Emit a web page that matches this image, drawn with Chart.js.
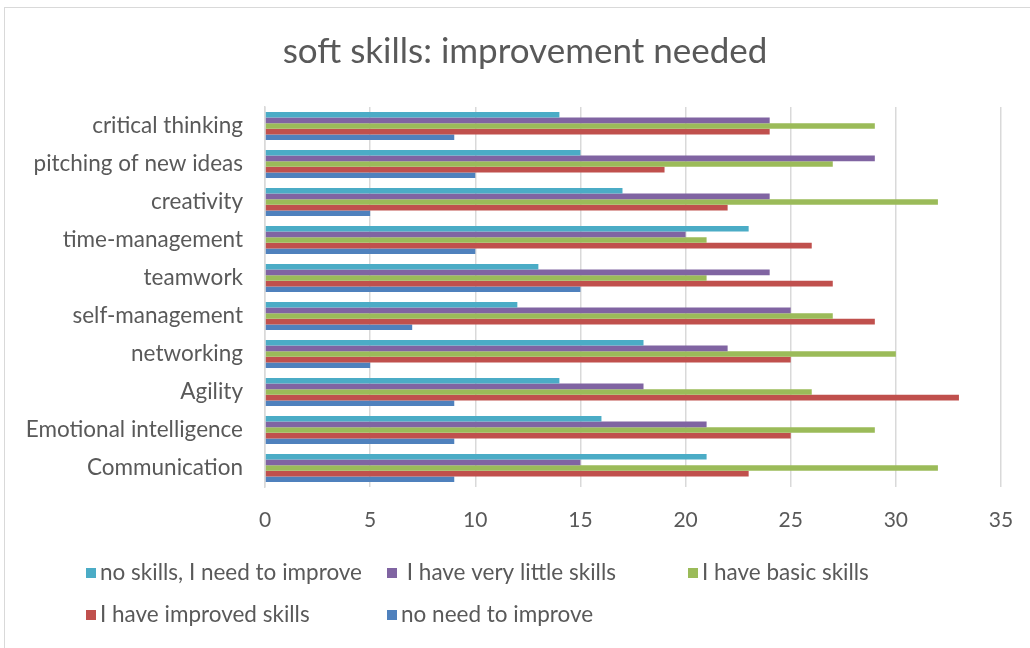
<!DOCTYPE html>
<html>
<head>
<meta charset="utf-8">
<script src="https://cdn.jsdelivr.net/npm/chart.js@4/dist/chart.umd.min.js"></script>
<style>
  html, body { margin: 0; padding: 0; background: #fff; overflow: hidden; }
  #frame { position: absolute; left: 4px; top: 7px; width: 1040px; height: 660px; border: 1px solid #d9d9d9; }
  #wrap { position: absolute; left: 0; top: 0; width: 1030px; height: 648px; }
</style>
</head>
<body>
<div id="frame"></div>
<div id="wrap"><canvas id="chart"></canvas></div>
<script>
// categories top to bottom as shown
const categories = [
    'critical thinking', 'pitching of new ideas', 'creativity', 'time-management',
    'teamwork', 'self-management', 'networking', 'Agility',
    'Emotional intelligence', 'Communication'
];
const noSkills   = [14, 15, 17, 23, 13, 12, 18, 14, 16, 21];
const veryLittle = [24, 29, 24, 20, 24, 25, 22, 18, 21, 15];
const basic      = [29, 27, 32, 21, 21, 27, 30, 26, 29, 32];
const improved   = [24, 19, 22, 26, 27, 29, 25, 33, 25, 23];
const noNeed     = [9, 10, 5, 10, 15, 7, 5, 9, 9, 9];
const xTicks = [0, 5, 10, 15, 20, 25, 30, 35];

const textColor = '#595959';
const fontFamily = 'Lato, "Liberation Sans", sans-serif';

// legend drawn in fixed columns like the office legend
const columnLegend = {
    id: 'columnLegend',
    afterDraw(chart) {
        const ctx = chart.ctx;
        const cols = [86, 387, 688];
        const rows = [573, 615];
        ctx.save();
        ctx.font = '22.5px ' + fontFamily;
        ctx.textBaseline = 'middle';
        chart.data.datasets.forEach((ds, i) => {
            const x = cols[i % 3];
            const y = rows[Math.floor(i / 3)];
            ctx.fillStyle = ds.backgroundColor;
            ctx.fillRect(x, y - 5, 10, 10);
            ctx.fillStyle = textColor;
            ctx.fillText(ds.label, x + 14, y);
        });
        ctx.restore();
    }
};

const ctx = document.getElementById('chart').getContext('2d');
new Chart(ctx, {
    type: 'bar',
    data: {
        labels: categories,
        datasets: [
            { label: 'no skills, I need to improve', data: noSkills, backgroundColor: '#4bacc6' },
            { label: ' I have very little skills', data: veryLittle, backgroundColor: '#8064a2' },
            { label: 'I have basic skills', data: basic, backgroundColor: '#9bbb59' },
            { label: 'I have improved skills', data: improved, backgroundColor: '#c0504d' },
            { label: 'no need to improve', data: noNeed, backgroundColor: '#4f81bd' }
        ]
    },
    options: {
        indexAxis: 'y',
        responsive: true,
        maintainAspectRatio: false,
        animation: false,
        categoryPercentage: 0.74,
        barPercentage: 1,
        layout: { padding: { left: 20, right: 0, top: 0, bottom: 0 } },
        plugins: {
            legend: { display: false },
            tooltip: { enabled: false },
            title: {
                display: true,
                text: 'soft skills: improvement needed',
                color: textColor,
                font: { family: fontFamily, size: 35, weight: 'normal', lineHeight: 1.2 },
                padding: { top: 31, bottom: 34 }
            }
        },
        scales: {
            x: {
                min: 0,
                max: 35,
                afterBuildTicks: scale => { scale.ticks = xTicks.map(v => ({ value: v })); },
                afterFit: scale => {
                    scale.height = 161;
                    scale.paddingLeft = 0;
                    scale.paddingRight = 29;
                },
                grid: { color: '#d9d9d9', lineWidth: 1.5, drawTicks: false },
                border: { display: false },
                ticks: { color: textColor, padding: 21, font: { family: fontFamily, size: 21 } }
            },
            y: {
                afterFit: scale => { scale.width = 245; },
                grid: { display: false, drawTicks: false },
                border: { color: '#d9d9d9', width: 1.5 },
                ticks: { color: textColor, padding: 22, font: { family: fontFamily, size: 22.5 } }
            }
        }
    },
    plugins: [columnLegend]
});
</script>
</body>
</html>
